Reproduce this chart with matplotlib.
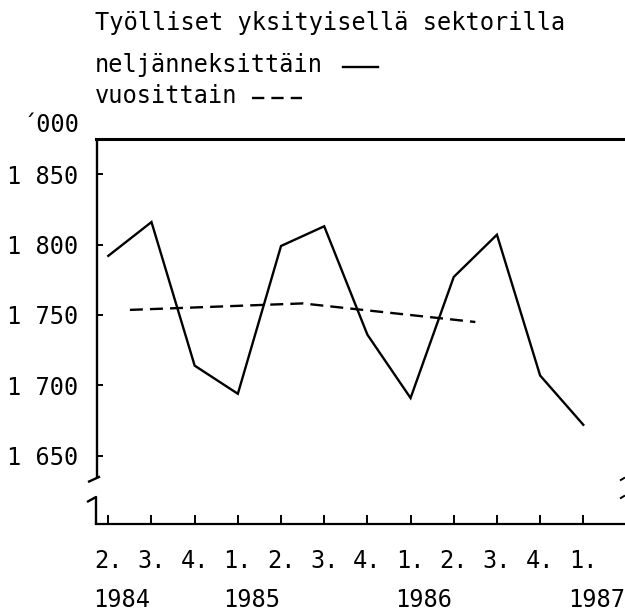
import matplotlib
matplotlib.use("Agg")
import matplotlib.pyplot as plt
import matplotlib.transforms as mtransforms
from matplotlib.lines import Line2D

# ---- data ----
quarter_labels = ["2.", "3.", "4.", "1.", "2.", "3.", "4.", "1.", "2.", "3.", "4.", "1."]
quarter_pos = list(range(len(quarter_labels)))
quarterly = [1792, 1816, 1714, 1694, 1799, 1813, 1736, 1691, 1777, 1807, 1707, 1672]
annual_pos = [0.5, 4.5, 8.5]
annual = [1753.6, 1758.2, 1745.0]
years = ["1984", "1985", "1986", "1987"]
year_pos = [0, 3, 7, 11]
yticks = [1650, 1700, 1750, 1800, 1850]
ytick_labels = ["1 650", "1 700", "1 750", "1 800", "1 850"]

title = "Työlliset yksityisellä sektorilla"
legend_q = "neljänneksittäin"
legend_a = "vuosittain"
unit = "´000"

plt.rcParams['font.family'] = ['DejaVu Sans Mono', 'DejaVu Sans']

W, H = 625, 613
fig = plt.figure(figsize=(W / 100, H / 100), dpi=100)
fs = 17
lw = 1.7

def P(x, y):
    return x / W, 1 - y / H

ax = fig.add_axes([96 / W, 1 - 524 / H, 1 - 96 / W, (524 - 139) / H])
ax.set_xlim(-0.285, 11.966)
ax.set_ylim(1601.5, 1875.0)

ax.plot(quarter_pos, quarterly, color='black', lw=lw, solid_joinstyle='miter')
ax.plot(annual_pos, annual, color='black', lw=lw, linestyle=(0, (5.5, 3.0)))

for s in ['left', 'right']:
    ax.spines[s].set_visible(False)
ax.spines['top'].set_linewidth(2.2)
ax.spines['bottom'].set_linewidth(1.6)

ax.set_yticks(yticks)
ax.set_yticklabels(ytick_labels, fontsize=fs)
ax.set_xticks(quarter_pos)
ax.set_xticklabels(quarter_labels, fontsize=fs)
ax.tick_params(axis='y', direction='in', length=5, width=1.4, pad=12.5)
ax.tick_params(axis='x', direction='in', length=6.5, width=1.4, pad=18)

# year labels, left-aligned with the quarter label below which they stand
off = mtransforms.ScaledTranslation(-15 / 100, 0, fig.dpi_scale_trans)
trans = mtransforms.blended_transform_factory(ax.transData, fig.transFigure) + off
for yp, yl in zip(year_pos, years):
    ax.text(yp, 1 - 607 / H, yl, transform=trans, ha='left', va='baseline',
            fontsize=fs, clip_on=False)

# broken left axis and break marks
def seg(points, w=1.7):
    xs = [p[0] / W for p in points]
    ys = [1 - p[1] / H for p in points]
    fig.add_artist(Line2D(xs, ys, transform=fig.transFigure, color='black', lw=w,
                          solid_capstyle='butt'))

seg([(96.5, 139), (96.5, 478)])
seg([(88, 482), (100, 476.5)])
seg([(87, 502), (96, 497), (96, 524)])
seg([(620, 480.5), (625, 477.5)], w=1.4)
seg([(620, 498.5), (625, 495.5)], w=1.4)

# texts
fig.text(*P(95, 30), title, fontsize=fs, ha='left', va='baseline')
fig.text(*P(95, 72), legend_q, fontsize=fs, ha='left', va='baseline')
fig.text(*P(95, 103), legend_a, fontsize=fs, ha='left', va='baseline')
fig.text(*P(80, 132), unit, fontsize=fs, ha='right', va='baseline')

# legend keys
fig.add_artist(Line2D([343 / W, 378 / W], [1 - 67 / H] * 2, transform=fig.transFigure,
                      color='black', lw=lw))
fig.add_artist(Line2D([252 / W, 302 / W], [1 - 98 / H] * 2, transform=fig.transFigure,
                      color='black', lw=lw, linestyle=(0, (5.2, 3.0))))

fig.savefig("out.png", dpi=100)
